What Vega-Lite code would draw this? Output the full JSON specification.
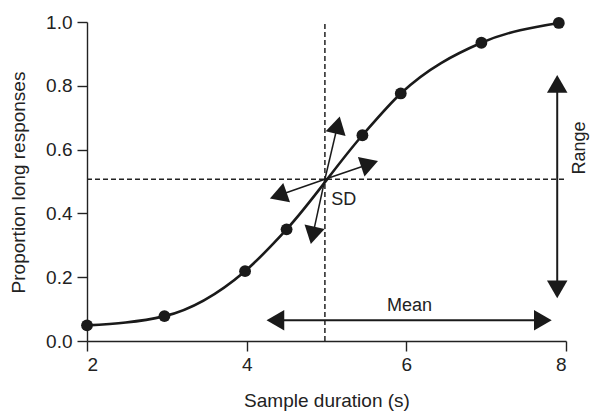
{
  "$schema": "https://vega.github.io/schema/vega-lite/v6.json",
  "autosize": "none",
  "width": 479,
  "height": 319,
  "padding": {"left": 87, "top": 22, "right": 35, "bottom": 74},
  "background": "white",
  "config": {
    "view": {"stroke": null},
    "font": "Liberation Sans",
    "axis": {
      "grid": false,
      "domainColor": "#222",
      "domainWidth": 1.4,
      "tickColor": "#222",
      "tickWidth": 1.4,
      "tickSize": 10,
      "labelColor": "#222",
      "titleColor": "#222",
      "labelFontSize": 19,
      "titleFontSize": 19,
      "titleFontWeight": "normal"
    }
  },
  "datasets": {
    "obs": [
      {"x": 2.0, "y": 0.049},
      {"x": 2.97, "y": 0.078},
      {"x": 3.98, "y": 0.219},
      {"x": 4.5, "y": 0.35},
      {"x": 5.45, "y": 0.645},
      {"x": 5.93, "y": 0.776},
      {"x": 6.94, "y": 0.935},
      {"x": 7.91, "y": 0.997}
    ],
    "guides": [
      {"x": 4.98, "y": 0.0, "x2": 4.98, "y2": 1.0},
      {"x": 2.0, "y": 0.507, "x2": 8.0, "y2": 0.507}
    ],
    "bigShafts": [
      {"x": 7.89, "y": 0.162, "x2": 7.89, "y2": 0.806},
      {"x": 4.36, "y": 0.065, "x2": 7.71, "y2": 0.065}
    ],
    "sdShafts": [
      {"x": 4.98, "y": 0.507, "x2": 5.14, "y2": 0.677},
      {"x": 4.98, "y": 0.507, "x2": 5.54, "y2": 0.555},
      {"x": 4.98, "y": 0.507, "x2": 4.396, "y2": 0.456},
      {"x": 4.98, "y": 0.507, "x2": 4.827, "y2": 0.331}
    ],
    "heads": [
      {"x": 7.89, "y": 0.806, "dir": 0},
      {"x": 7.89, "y": 0.162, "dir": 180},
      {"x": 4.36, "y": 0.065, "dir": 270},
      {"x": 7.71, "y": 0.065, "dir": 90},
      {"x": 5.14, "y": 0.677, "dir": 13.4},
      {"x": 5.54, "y": 0.555, "dir": 71.3},
      {"x": 4.396, "y": 0.456, "dir": 250.7},
      {"x": 4.827, "y": 0.331, "dir": 192.2}
    ],
    "labels": [
      {"x": 5.217, "y": 0.4415, "text": "SD"},
      {"x": 6.04, "y": 0.109, "text": "Mean"}
    ],
    "vlabels": [
      {"x": 8.17, "y": 0.605, "text": "Range"}
    ]
  },
  "encoding": {
    "x": {
      "field": "x",
      "type": "quantitative",
      "scale": {"domain": [2, 8], "nice": false, "zero": false},
      "axis": {
        "values": [2, 4, 6, 8],
        "title": "Sample duration (s)",
        "labelPadding": 4,
        "titleY": 65,
        "titleBaseline": "alphabetic"
      }
    },
    "y": {
      "field": "y",
      "type": "quantitative",
      "scale": {"domain": [0, 1], "nice": false, "zero": false},
      "axis": {
        "values": [0, 0.2, 0.4, 0.6, 0.8, 1.0],
        "format": ".1f",
        "title": "Proportion long responses",
        "labelPadding": 5,
        "titleX": -69,
        "titleY": 160,
        "titleAngle": 270,
        "titleAlign": "center",
        "titleBaseline": "middle"
      }
    }
  },
  "layer": [
    {
      "data": {"name": "guides"},
      "mark": {"type": "rule", "color": "#222", "strokeWidth": 1.5, "strokeDash": [5, 3]},
      "encoding": {"x2": {"field": "x2"}, "y2": {"field": "y2"}}
    },
    {
      "data": {"name": "obs"},
      "mark": {"type": "line", "interpolate": "monotone", "color": "#1a1a1a", "strokeWidth": 2.6}
    },
    {
      "data": {"name": "obs"},
      "mark": {"type": "point", "shape": "circle", "filled": true, "opacity": 1, "color": "#1a1a1a", "size": 140}
    },
    {
      "data": {"name": "bigShafts"},
      "mark": {"type": "rule", "color": "#1a1a1a", "strokeWidth": 2},
      "encoding": {"x2": {"field": "x2"}, "y2": {"field": "y2"}}
    },
    {
      "data": {"name": "sdShafts"},
      "mark": {"type": "rule", "color": "#1a1a1a", "strokeWidth": 1.5},
      "encoding": {"x2": {"field": "x2"}, "y2": {"field": "y2"}}
    },
    {
      "data": {"name": "heads"},
      "mark": {"type": "point", "shape": "triangle-up", "filled": true, "opacity": 1, "color": "#1a1a1a", "size": 420, "strokeWidth": 0},
      "encoding": {"angle": {"field": "dir", "type": "quantitative", "scale": null}}
    },
    {
      "data": {"name": "labels"},
      "mark": {"type": "text", "fontSize": 18, "color": "#222", "align": "center", "baseline": "middle"},
      "encoding": {"text": {"field": "text"}}
    },
    {
      "data": {"name": "vlabels"},
      "mark": {"type": "text", "fontSize": 18, "color": "#222", "align": "center", "baseline": "middle", "angle": 270},
      "encoding": {"text": {"field": "text"}}
    }
  ]
}
